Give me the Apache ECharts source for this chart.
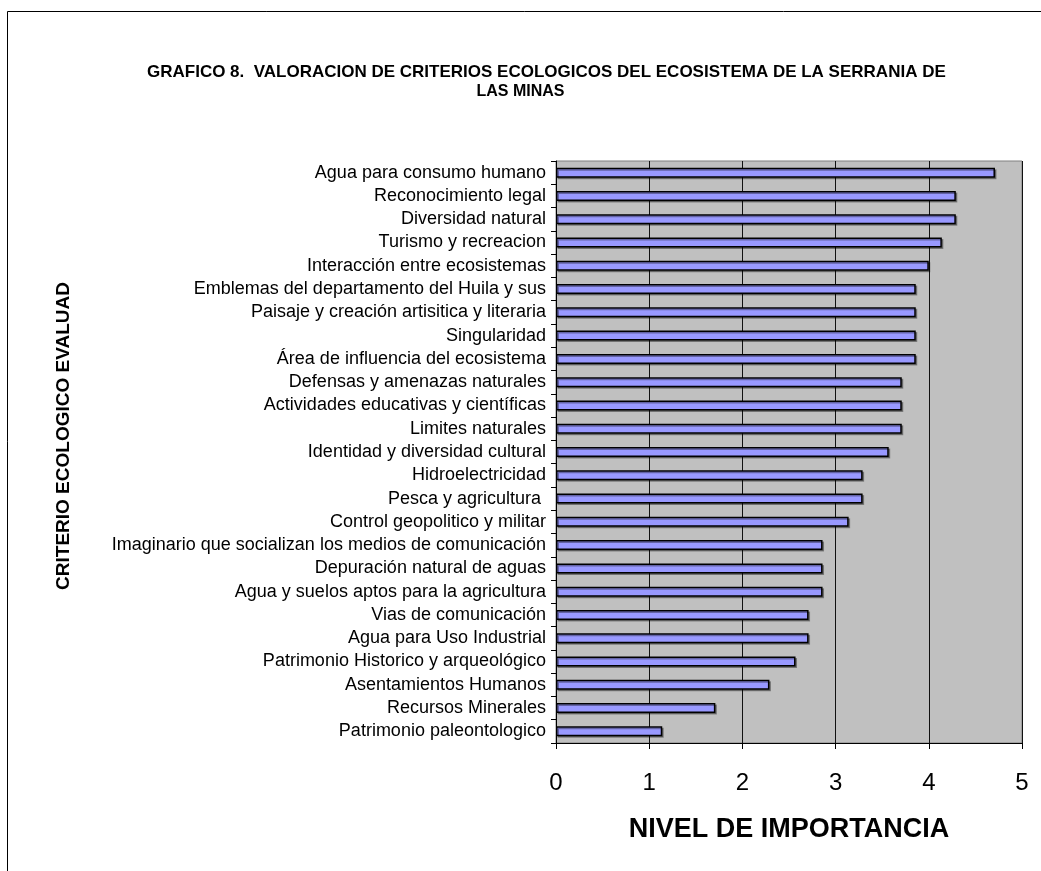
<!DOCTYPE html>
<html>
<head>
<meta charset="utf-8">
<title>Valoracion de criterios ecologicos</title>
<script src="https://cdn.jsdelivr.net/npm/echarts@6/dist/echarts.min.js"></script>
<style>
    html, body { margin: 0; padding: 0; background: #fff; }
    #chart { width: 1041px; height: 871px; }
</style>
</head>
<body>
<div id="chart"></div>
<script>
// criterios, de arriba hacia abajo
var criterios = [
    'Agua para consumo humano',
    'Reconocimiento legal',
    'Diversidad natural',
    'Turismo y recreacion',
    'Interacción entre ecosistemas',
    'Emblemas del departamento del Huila y sus',
    'Paisaje y creación artisitica y literaria',
    'Singularidad',
    'Área de influencia del ecosistema',
    'Defensas y amenazas naturales',
    'Actividades educativas y científicas',
    'Limites naturales',
    'Identidad y diversidad cultural',
    'Hidroelectricidad',
    'Pesca y agricultura ',
    'Control geopolitico y militar',
    'Imaginario que socializan los medios de comunicación',
    'Depuración natural de aguas',
    'Agua y suelos aptos para la agricultura',
    'Vias de comunicación',
    'Agua para Uso Industrial',
    'Patrimonio Historico y arqueológico',
    'Asentamientos Humanos',
    'Recursos Minerales',
    'Patrimonio paleontologico'
];

var nivel = [
    4.71, 4.29, 4.29, 4.14, 4.00,
    3.86, 3.86, 3.86, 3.86, 3.71,
    3.71, 3.71, 3.57, 3.29, 3.29,
    3.14, 2.86, 2.86, 2.86, 2.71,
    2.71, 2.57, 2.29, 1.71, 1.14
];

var xTicks = [0, 1, 2, 3, 4, 5];

var tituloLinea1 = 'GRAFICO 8.  VALORACION DE CRITERIOS ECOLOGICOS DEL ECOSISTEMA DE LA SERRANIA DE';
var tituloLinea2 = 'LAS MINAS';
var nombreX = 'NIVEL DE IMPORTANCIA';
var nombreY = 'CRITERIO ECOLOGICO EVALUAD';

var font = '"Liberation Sans", Arial, sans-serif';

var chart = echarts.init(document.getElementById('chart'));

chart.setOption({
    animation: false,
    backgroundColor: '#fff',
    textStyle: { fontFamily: font },
    title: [{
        text: tituloLinea1,
        left: 147,
        top: 64,
        padding: 0,
        textStyle: { fontFamily: font, fontSize: 17, fontWeight: 'bold', color: '#000' }
    }, {
        text: tituloLinea2,
        left: 'center',
        top: 84,
        padding: 0,
        textStyle: { fontFamily: font, fontSize: 16, fontWeight: 'bold', color: '#000' }
    }],
    graphic: [{
        // marco del grafico (recortado a derecha y abajo)
        type: 'rect',
        shape: { x: 7.5, y: 11.5, width: 1200, height: 1000 },
        style: { fill: 'none', stroke: '#000', lineWidth: 1 },
        silent: true
    }, {
        type: 'text',
        x: 64,
        y: 436,
        rotation: Math.PI / 2,
        style: {
            text: nombreY,
            font: 'bold 19px ' + font,
            fill: '#000',
            align: 'center',
            verticalAlign: 'middle'
        },
        silent: true
    }],
    grid: {
        show: true,
        left: 556,
        right: 19,
        top: 161,
        bottom: 128,
        containLabel: false,
        backgroundColor: '#c0c0c0',
        borderColor: '#808080',
        borderWidth: 1
    },
    xAxis: {
        type: 'value',
        min: xTicks[0],
        max: xTicks[xTicks.length - 1],
        interval: 1,
        name: nombreX,
        nameLocation: 'middle',
        nameGap: 73,
        nameTextStyle: { fontFamily: font, fontSize: 27, fontWeight: 'bold', color: '#000' },
        axisLine: { show: true, lineStyle: { color: '#000', width: 1 } },
        axisTick: { show: true, length: 6, lineStyle: { color: '#000' } },
        axisLabel: { fontSize: 24, color: '#000', margin: 28 },
        splitLine: { show: true, lineStyle: { color: '#111', width: 1 } }
    },
    yAxis: {
        type: 'category',
        data: criterios,
        inverse: true,
        axisLine: { show: true, lineStyle: { color: '#000', width: 1 } },
        axisTick: { show: true, length: 5, lineStyle: { color: '#000' } },
        axisLabel: { fontSize: 18, color: '#000', margin: 10, interval: 0 },
        splitLine: { show: false }
    },
    series: [{
        type: 'bar',
        data: nivel,
        barWidth: 10,
        itemStyle: {
            color: '#9999ff',
            borderColor: '#000',
            borderWidth: 1.5,
            shadowColor: 'rgba(0,0,0,0.35)',
            shadowOffsetX: 1.5,
            shadowOffsetY: 1.5,
            shadowBlur: 0
        }
    }]
});
</script>
</body>
</html>
